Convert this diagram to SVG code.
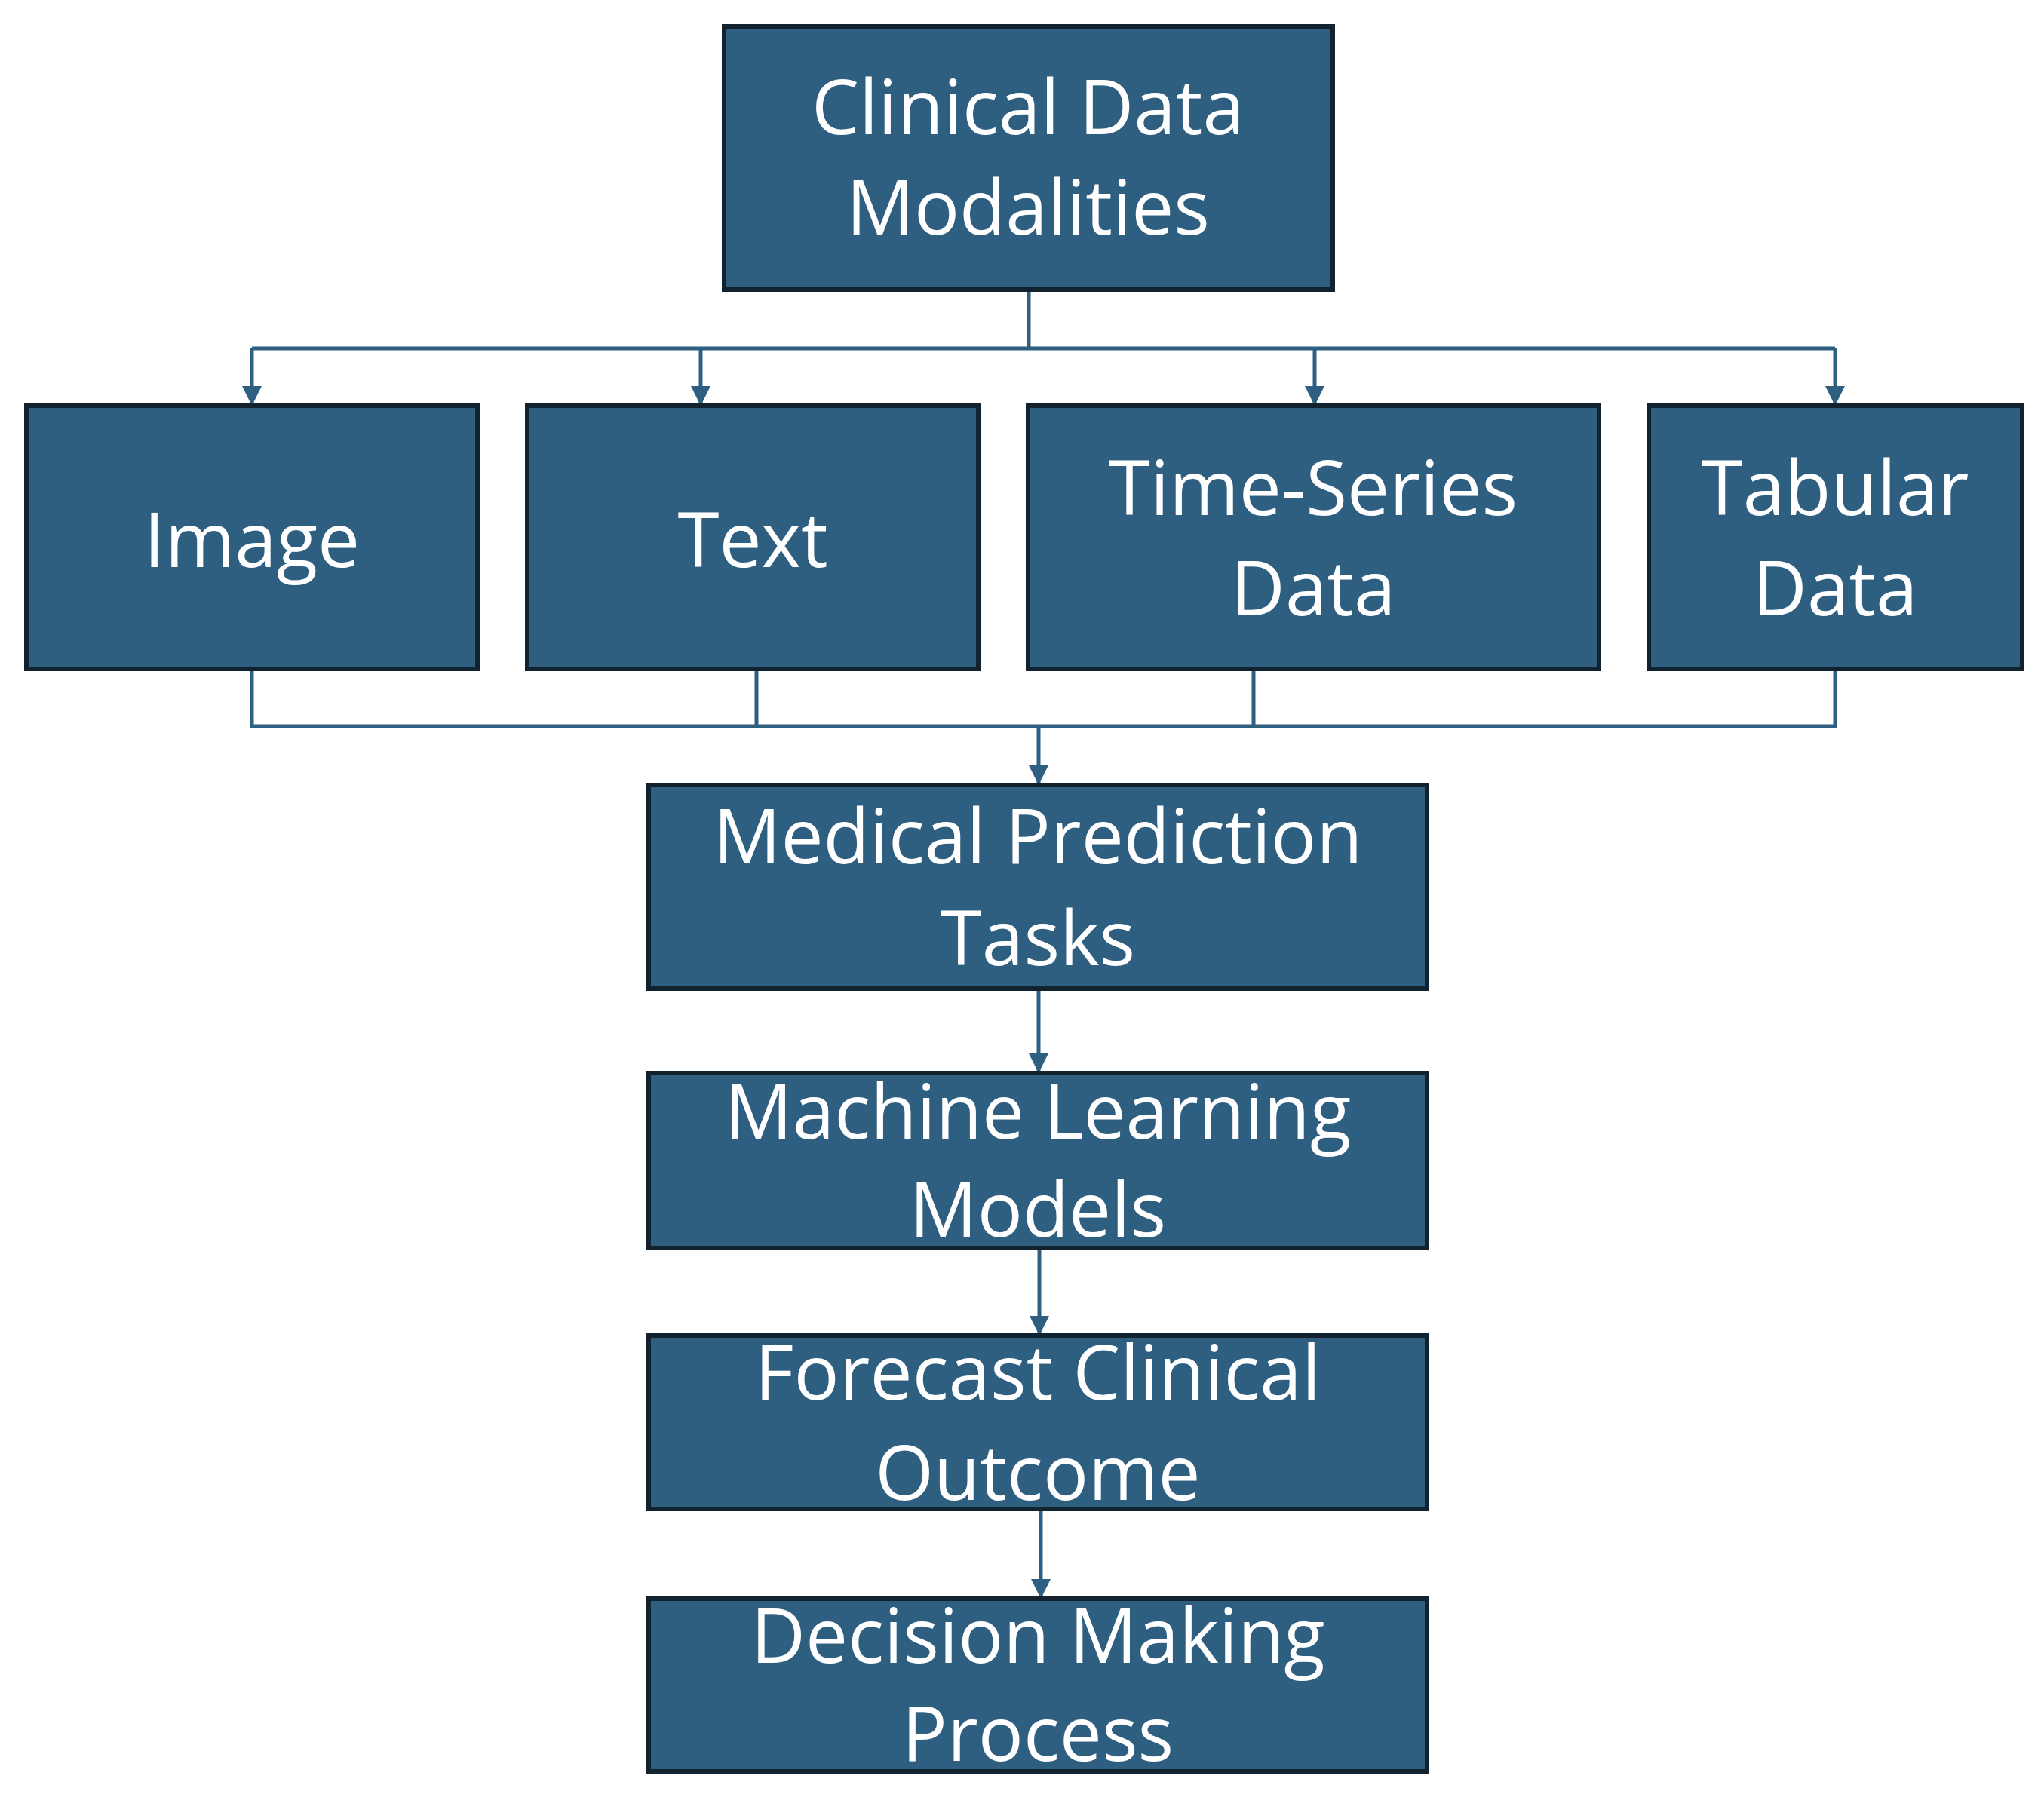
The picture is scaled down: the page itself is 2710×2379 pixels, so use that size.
<svg xmlns="http://www.w3.org/2000/svg" width="2710" height="2379" viewBox="0 0 2710 2379">
<style>
.n{fill:#2E5F80;stroke:#13222f;stroke-width:6}
.t{font-family:"Open Sans",sans-serif;font-size:100px;fill:#fff;text-anchor:middle}
.c{fill:none;stroke:#2E5F80;stroke-width:5}
</style>
<defs><marker id="a" viewBox="0 0 10 10" refX="9" refY="5" markerWidth="6" markerHeight="6" orient="auto" markerUnits="userSpaceOnUse" style="overflow:visible"><path d="M0,0L10,5L0,10z" fill="#2E5F80" transform="scale(2.6) translate(-6,-5) translate(6,5)"/></marker>
<marker id="m" viewBox="0 0 26 26" refX="26" refY="13" markerWidth="26" markerHeight="26" orient="auto" markerUnits="userSpaceOnUse"><path d="M0,0L26,13L0,26z" fill="#2E5F80"/></marker></defs>
<rect width="2710" height="2379" fill="#fff"/>
<g id="connectors">
<path class="c" d="M1364,384V462M334,462H2433"/>
<path class="c" marker-end="url(#m)" d="M334,462V538"/>
<path class="c" marker-end="url(#m)" d="M929,462V538"/>
<path class="c" marker-end="url(#m)" d="M1743,462V538"/>
<path class="c" marker-end="url(#m)" d="M2433,462V538"/>
<path class="c" d="M334,887V963H2433V887M1003,887V963M1662,887V963"/>
<path class="c" marker-end="url(#m)" d="M1377,963V1041"/>
<path class="c" marker-end="url(#m)" d="M1377,1311V1423"/>
<path class="c" marker-end="url(#m)" d="M1378,1655V1771"/>
<path class="c" marker-end="url(#m)" d="M1380,2001V2120"/>
</g>
<g id="clinical"><rect class="n" x="960" y="35" width="807" height="349"/><text class="t" x="1363" y="178">Clinical Data</text><text class="t" x="1363" y="311">Modalities</text></g>
<g id="image"><rect class="n" x="35" y="538" width="598" height="349"/><text class="t" x="334" y="752">Image</text></g>
<g id="text"><rect class="n" x="699" y="538" width="598" height="349"/><text class="t" x="998" y="752">Text</text></g>
<g id="timeseries"><rect class="n" x="1363" y="538" width="757" height="349"/><text class="t" x="1741" y="683">Time-Series</text><text class="t" x="1741" y="816">Data</text></g>
<g id="tabular"><rect class="n" x="2186" y="538" width="495" height="349"/><text class="t" x="2433" y="683">Tabular</text><text class="t" x="2433" y="816">Data</text></g>
<g id="medical"><rect class="n" x="860" y="1041" width="1032" height="270"/><text class="t" x="1376" y="1145">Medical Prediction</text><text class="t" x="1376" y="1280">Tasks</text></g>
<g id="ml"><rect class="n" x="860" y="1423" width="1032" height="232"/><text class="t" x="1376" y="1510">Machine Learning</text><text class="t" x="1376" y="1640">Models</text></g>
<g id="forecast"><rect class="n" x="860" y="1771" width="1032" height="230"/><text class="t" x="1376" y="1856">Forecast Clinical</text><text class="t" x="1376" y="1989">Outcome</text></g>
<g id="decision"><rect class="n" x="860" y="2120" width="1032" height="229"/><text class="t" x="1376" y="2205">Decision Making</text><text class="t" x="1376" y="2335">Process</text></g>
</svg>
